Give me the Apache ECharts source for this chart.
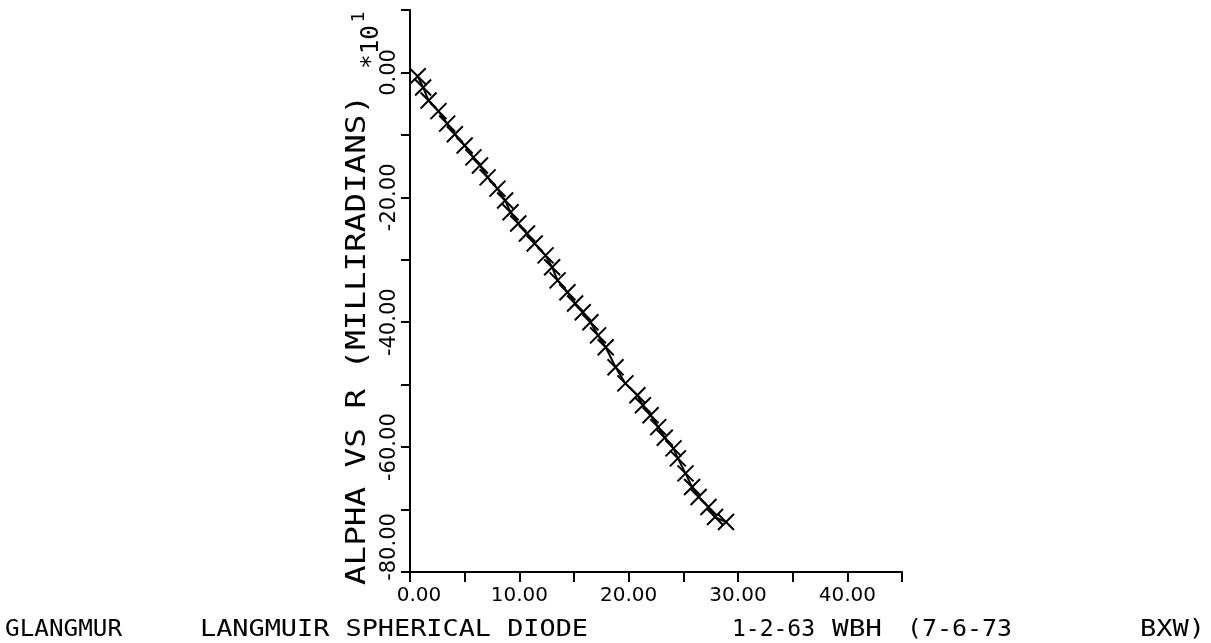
<!DOCTYPE html>
<html>
<head>
<meta charset="utf-8">
<script src="https://cdn.jsdelivr.net/npm/echarts@6/dist/echarts.min.js"></script>
<style>
  html, body { margin: 0; padding: 0; background: #fff; }
  #chart { width: 1211px; height: 643px; }
</style>
</head>
<body>
<div id="chart"></div>
<script>
// Radius R (x) and deflection angle ALPHA in milliradians (x10^1)
const rValues = [0.7, 1.2, 1.7, 2.6, 3.4, 4.1, 5.0, 5.8, 6.4, 7.1,
                 8.0, 8.7, 9.2, 9.9, 10.7, 11.4, 12.4, 13.0, 13.5, 14.4,
                 15.1, 15.8, 16.5, 17.2, 17.9, 18.8, 19.7, 20.8, 21.3, 22.0,
                 22.7, 23.3, 24.1, 24.5, 25.2, 25.8, 26.4, 27.3, 27.9, 28.9];
const alphaValues = [-0.6, -2.4, -4.5, -6.2, -8.2, -9.9, -11.7, -13.6, -14.9, -16.8,
                     -18.6, -20.5, -22.4, -24.2, -25.8, -27.4, -29.3, -31.2, -33.3, -35.2,
                     -37.0, -38.4, -40.0, -42.1, -44.0, -47.2, -49.8, -51.7, -53.3, -54.9,
                     -56.8, -58.5, -60.2, -61.8, -64.2, -66.4, -68.0, -69.6, -71.2, -72.0];

// Labelled tick values on each axis
const xLabelValues = [0, 10, 20, 30, 40];
const yLabelValues = [0, -20, -40, -60, -80];

// Texts
const yTitle = 'ALPHA VS R (MILLIRADIANS)';
const scaleMark = '*10';
const scaleExp = '1';
const footer = [
  { text: 'GLANGMUR', left: 5, right: 122 },
  { text: 'LANGMUIR SPHERICAL DIODE', left: 200, right: 588 },
  { text: '1-2-63', left: 732, right: 815 },
  { text: 'WBH', left: 832, right: 882 },
  { text: '(7-6-73', left: 907, right: 1012 },
  { text: 'BXW)', left: 1140, right: 1205 }
];

const MONO = 'DejaVu Sans Mono';
const SANS = 'DejaVu Sans';

const measureCtx = document.createElement('canvas').getContext('2d');
function textWidth(str, font) {
  measureCtx.font = font;
  return measureCtx.measureText(str).width;
}

// A text element stretched along its reading direction to a given length
function stretched(str, cx, cy, length, size, rotation) {
  const font = size + 'px "' + MONO + '"';
  const w = textWidth(str, font);
  return {
    type: 'text',
    x: cx, y: cy,
    rotation: rotation || 0,
    scaleX: length / w,
    silent: true,
    style: {
      text: str,
      font: font,
      fill: '#000',
      align: 'center',
      verticalAlign: 'middle'
    }
  };
}

const graphics = [];
footer.forEach(f => {
  graphics.push(stretched(f.text, (f.left + f.right) / 2, 630, f.right - f.left, 23, 0));
});
// Vertical axis title, reading bottom to top
graphics.push(stretched(yTitle, 358, 340, 490, 26, Math.PI / 2));
// Scale factor *10 with exponent
graphics.push(stretched(scaleMark, 372, 47, 44, 24, Math.PI / 2));
graphics.push(stretched(scaleExp, 359, 17, 11, 18, Math.PI / 2));

const crossSymbol = 'path://M0,0L10,10M10,0L0,10';

const chart = echarts.init(document.getElementById('chart'), null, { renderer: 'canvas' });
chart.setOption({
  backgroundColor: '#fff',
  animation: false,
  grid: { left: 410, right: 309, top: 10, bottom: 71, containLabel: false },
  xAxis: {
    type: 'value',
    min: 0, max: 45, interval: 5,
    axisLine: { show: true, onZero: false, lineStyle: { color: '#000', width: 2 } },
    axisTick: { show: true, inside: false, length: 10, lineStyle: { color: '#000', width: 2 } },
    splitLine: { show: false },
    axisLabel: {
      show: true,
      margin: 14,
      color: '#000',
      fontFamily: SANS,
      fontSize: 20,
      showMinLabel: true,
      showMaxLabel: true,
      formatter: v => {
        if (xLabelValues.indexOf(v) < 0) return '';
        return v === 0 ? '{first|' + v.toFixed(2) + '}' : v.toFixed(2);
      },
      rich: {
        first: { fontFamily: SANS, fontSize: 20, color: '#000', padding: [0, 0, 0, 18] }
      }
    }
  },
  yAxis: {
    type: 'value',
    min: -80, max: 10, interval: 10,
    axisLine: { show: true, onZero: false, lineStyle: { color: '#000', width: 2 } },
    axisTick: { show: true, inside: false, length: 9, lineStyle: { color: '#000', width: 2 } },
    splitLine: { show: false },
    axisLabel: {
      show: true,
      rotate: 90,
      margin: 10,
      color: '#000',
      fontFamily: SANS,
      fontSize: 21,
      showMinLabel: true,
      formatter: v => {
        if (yLabelValues.indexOf(v) < 0) return '';
        return v === -80 ? '{last|' + v.toFixed(2) + '}' : v.toFixed(2);
      },
      rich: {
        last: { fontFamily: SANS, fontSize: 21, color: '#000', padding: [0, 0, 0, 50] }
      }
    }
  },
  series: [{
    type: 'line',
    data: rValues.map((r, i) => [r, alphaValues[i]]),
    lineStyle: { color: '#000', width: 2 },
    symbol: crossSymbol,
    symbolSize: 16,
    showSymbol: true,
    itemStyle: { color: '#000', borderColor: '#000', borderWidth: 2 },
    z: 3
  }],
  graphic: graphics
});
</script>
</body>
</html>
